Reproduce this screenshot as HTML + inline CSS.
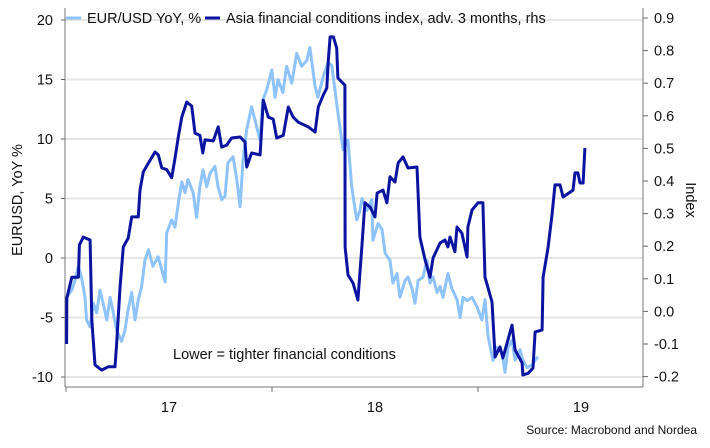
<!DOCTYPE html>
<html><head><meta charset="utf-8"><style>
body{margin:0;background:#fff;font-family:"Liberation Sans",sans-serif;}
svg{display:block}
text{font-family:"Liberation Sans",sans-serif;fill:#111}
</style></head><body>
<svg id="chart" width="710" height="448" viewBox="0 0 710 448">
<g id="grid"></g>
<g id="axes"></g>
<g id="series"></g>
<g>
<line x1="66" y1="18" x2="81" y2="18" stroke="#8ec3fb" stroke-width="3"/>
<text x="87" y="23" font-size="14.5">EUR/USD YoY, %</text>
<line x1="205" y1="18" x2="220" y2="18" stroke="#0a14a0" stroke-width="3"/>
<text x="226" y="23" font-size="14.5">Asia financial conditions index, adv. 3 months, rhs</text>
</g>
<text x="173" y="359" font-size="14.5">Lower = tighter financial conditions</text>
<text transform="translate(22,200) rotate(-90)" text-anchor="middle" font-size="14.5">EURUSD, YoY %</text>
<text transform="translate(686,200) rotate(90)" text-anchor="middle" font-size="14.5">Index</text>
<text x="697" y="434" text-anchor="end" font-size="12">Source: Macrobond and Nordea</text>
</svg>
<script>
const leftTicks=[20,15,10,5,0,-5,-10];
const rightTicks=[0.9,0.8,0.7,0.6,0.5,0.4,0.3,0.2,0.1,0.0,-0.1,-0.2];
const xTickYears=[2017,2018,2019];
const xLabels=["17","18","19"];
const eurDates=[2017.003,2017.028,2017.044,2017.060,2017.076,2017.092,2017.100,2017.117,2017.133,2017.149,2017.165,2017.180,2017.198,2017.214,2017.228,2017.246,2017.270,2017.286,2017.301,2017.319,2017.335,2017.351,2017.367,2017.383,2017.400,2017.422,2017.447,2017.465,2017.481,2017.489,2017.513,2017.529,2017.545,2017.562,2017.578,2017.592,2017.617,2017.634,2017.650,2017.665,2017.683,2017.699,2017.723,2017.738,2017.756,2017.772,2017.786,2017.811,2017.829,2017.845,2017.859,2017.877,2017.901,2017.926,2017.942,2017.956,2017.974,2017.999,2018.015,2018.029,2018.053,2018.071,2018.096,2018.120,2018.144,2018.169,2018.184,2018.209,2018.223,2018.248,2018.272,2018.290,2018.306,2018.320,2018.345,2018.369,2018.387,2018.411,2018.427,2018.437,2018.461,2018.485,2018.490,2018.515,2018.534,2018.549,2018.573,2018.587,2018.607,2018.621,2018.646,2018.660,2018.680,2018.694,2018.709,2018.733,2018.752,2018.767,2018.782,2018.801,2018.816,2018.830,2018.854,2018.874,2018.898,2018.913,2018.927,2018.947,2018.971,2018.995,2019.019,2019.034,2019.049,2019.073,2019.092,2019.117,2019.131,2019.146,2019.165,2019.180,2019.204,2019.218,2019.238,2019.262,2019.277,2019.291];
const eurValues=[-3.3,-2.7,-1.85,-0.7,-1.7,-3.3,-5.2,-5.8,-3.8,-4.6,-2.7,-3.8,-5.2,-3.3,-4.5,-6.1,-7.0,-6.1,-4.4,-2.9,-5.2,-3.5,-2.4,-0.2,0.7,-0.7,0.1,-1.0,-2.0,2.1,3.2,2.6,4.6,6.4,5.5,6.6,5.5,3.4,6.0,7.4,6.0,7.1,7.7,6.0,4.9,5.2,8.0,8.5,6.6,4.3,8.2,10.8,12.7,11.0,9.9,13.3,14.1,15.8,13.5,15.0,13.9,16.1,14.7,17.2,16.1,16.6,17.7,14.4,13.5,15.2,16.4,16.2,14.1,12.2,9.1,9.9,6.0,3.2,4.0,5.0,4.0,4.9,1.5,2.9,2.4,0.4,-0.2,-2.1,-1.3,-3.3,-1.9,-1.6,-2.6,-3.8,-1.9,-1.6,-0.2,-2.1,-1.6,-2.9,-2.4,-3.3,-1.3,-2.6,-3.5,-5.0,-3.3,-3.6,-3.3,-4.1,-5.2,-3.5,-6.6,-8.6,-7.5,-8.0,-9.6,-7.5,-6.9,-8.6,-7.7,-8.6,-9.2,-9.0,-8.6,-8.3];
const fciDates=[2017.003,2017.004,2017.028,2017.060,2017.065,2017.084,2017.117,2017.125,2017.141,2017.173,2017.205,2017.238,2017.246,2017.262,2017.278,2017.302,2017.319,2017.351,2017.359,2017.375,2017.400,2017.432,2017.448,2017.465,2017.489,2017.513,2017.529,2017.545,2017.562,2017.586,2017.610,2017.626,2017.650,2017.664,2017.675,2017.715,2017.739,2017.756,2017.780,2017.804,2017.845,2017.869,2017.877,2017.901,2017.942,2017.958,2017.982,2018.006,2018.023,2018.055,2018.079,2018.103,2018.128,2018.176,2018.209,2018.225,2018.249,2018.266,2018.273,2018.282,2018.298,2018.314,2018.320,2018.354,2018.355,2018.369,2018.393,2018.417,2018.437,2018.451,2018.476,2018.500,2018.510,2018.539,2018.558,2018.573,2018.597,2018.612,2018.636,2018.660,2018.704,2018.718,2018.743,2018.767,2018.782,2018.816,2018.840,2018.854,2018.864,2018.888,2018.898,2018.922,2018.947,2018.951,2018.971,2019.000,2019.024,2019.034,2019.068,2019.083,2019.107,2019.121,2019.165,2019.180,2019.214,2019.218,2019.243,2019.267,2019.277,2019.311,2019.316,2019.340,2019.359,2019.374,2019.398,2019.413,2019.461,2019.471,2019.485,2019.495,2019.510,2019.519];
const fciValues=[-0.10,0.04,0.105,0.105,0.204,0.228,0.219,-0.026,-0.164,-0.18,-0.17,-0.17,-0.097,0.072,0.198,0.225,0.29,0.29,0.372,0.428,0.455,0.489,0.48,0.44,0.435,0.41,0.47,0.535,0.596,0.642,0.63,0.547,0.54,0.486,0.526,0.523,0.566,0.504,0.51,0.532,0.535,0.52,0.443,0.486,0.48,0.648,0.596,0.59,0.532,0.54,0.627,0.596,0.58,0.566,0.55,0.627,0.664,0.685,0.765,0.842,0.842,0.808,0.716,0.694,0.198,0.112,0.087,0.035,0.204,0.333,0.32,0.29,0.363,0.372,0.333,0.413,0.397,0.455,0.474,0.44,0.443,0.228,0.158,0.105,0.164,0.21,0.219,0.198,0.228,0.183,0.259,0.24,0.167,0.259,0.311,0.333,0.333,0.105,0.029,-0.14,-0.109,-0.143,-0.042,-0.118,-0.158,-0.195,-0.19,-0.174,-0.063,-0.057,0.105,0.195,0.296,0.388,0.388,0.351,0.372,0.425,0.425,0.394,0.394,0.501];

const X0=66,PX_YEAR=206,PL=65,PR=643,AXY=387;
const xScale=d=>X0+(d-2017)*PX_YEAR;
const yLeft=v=>258-v*11.9;
const yRight=v=>18+(0.9-v)*326;
const NS="http://www.w3.org/2000/svg";
function mk(tag,attrs,parent){const e=document.createElementNS(NS,tag);for(const k in attrs)e.setAttribute(k,attrs[k]);parent.appendChild(e);return e;}
const grid=document.getElementById('grid'),axes=document.getElementById('axes'),series=document.getElementById('series');
leftTicks.forEach(t=>{
 const y=yLeft(t);
 const g=mk('line',{x1:PL,x2:PR,y1:y,y2:y,stroke:'#e6e6e6','stroke-width':2},grid);
 
 
 const tk=mk('line',{x1:PL-4,x2:PL,y1:y,y2:y,stroke:'#666','stroke-width':1},axes);
 
 
 const tx=mk('text',{x:53,y:y+5,'text-anchor':'end','font-size':14.5},axes);
 tx.textContent=t;
 
 
});
rightTicks.forEach(t=>{
 const y=yRight(t);
 const tk=mk('line',{x1:PR,x2:PR+5,y1:y,y2:y,stroke:'#666','stroke-width':1},axes);
 
 
 const tx=mk('text',{x:654,y:y+5,'font-size':14.5},axes);
 tx.textContent=t.toFixed(1);
 
 
});
const la=mk('line',{x1:PL,x2:PL,y1:8,y2:AXY,stroke:'#777','stroke-width':1},axes);


const ra=mk('line',{x1:PR,x2:PR,y1:8,y2:AXY,stroke:'#777','stroke-width':1},axes);


const xa=mk('line',{x1:PL,x2:PR,y1:AXY,y2:AXY,stroke:'#777','stroke-width':1},axes);


xTickYears.forEach((yr,i)=>{
 const x=xScale(yr);
 const tk=mk('line',{x1:x,x2:x,y1:AXY,y2:AXY+5,stroke:'#777','stroke-width':1},axes);
 
 
 const tx=mk('text',{x:xScale(yr+0.5),y:412,'text-anchor':'middle','font-size':14.5},axes);
 tx.textContent=xLabels[i];
 
 
});
const eurPts=eurDates.map((d,i)=>xScale(d).toFixed(1)+','+yLeft(eurValues[i]).toFixed(1)).join(' ');
const eur=mk('polyline',{points:eurPts,fill:'none',stroke:'#8ec3fb','stroke-width':3,'stroke-linejoin':'round'},series);


const fciPts=fciDates.map((d,i)=>xScale(d).toFixed(1)+','+yRight(fciValues[i]).toFixed(1)).join(' ');
const fci=mk('polyline',{points:fciPts,fill:'none',stroke:'#0a14a0','stroke-width':3,'stroke-linejoin':'round'},series);


</script>
</body></html>
